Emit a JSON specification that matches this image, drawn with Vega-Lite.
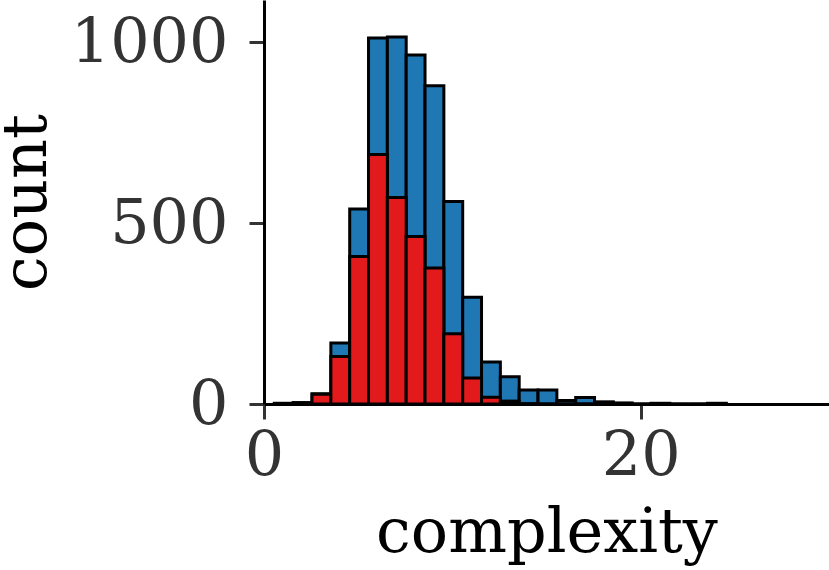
{
  "$schema": "https://vega.github.io/schema/vega-lite/v6.json",
  "width": 565,
  "height": 404,
  "autosize": "none",
  "padding": {"left": 264, "top": 0, "right": 0, "bottom": 166},
  "background": "white",
  "config": {
    "view": {"stroke": null},
    "font": "DejaVu Serif",
    "axis": {
      "labelFont": "DejaVu Serif",
      "titleFont": "DejaVu Serif",
      "labelFontSize": 62,
      "titleFontSize": 62,
      "labelColor": "#333333",
      "titleColor": "#000000",
      "titleFontWeight": "normal",
      "domainColor": "#000000",
      "domainWidth": 3,
      "tickColor": "#333333",
      "tickWidth": 3,
      "tickSize": 15,
      "grid": false,
      "format": "d"
    }
  },
  "data": {
    "values": [
      {"bin_start": 0.55, "bin_end": 1.55, "total": 2, "red": 1},
      {"bin_start": 1.55, "bin_end": 2.55, "total": 4, "red": 2},
      {"bin_start": 2.55, "bin_end": 3.55, "total": 28, "red": 27},
      {"bin_start": 3.55, "bin_end": 4.55, "total": 169, "red": 131},
      {"bin_start": 4.55, "bin_end": 5.55, "total": 539, "red": 408},
      {"bin_start": 5.55, "bin_end": 6.55, "total": 1012, "red": 690},
      {"bin_start": 6.55, "bin_end": 7.55, "total": 1015, "red": 571},
      {"bin_start": 7.55, "bin_end": 8.55, "total": 965, "red": 463},
      {"bin_start": 8.55, "bin_end": 9.55, "total": 880, "red": 376},
      {"bin_start": 9.55, "bin_end": 10.55, "total": 560, "red": 194},
      {"bin_start": 10.55, "bin_end": 11.55, "total": 295, "red": 72},
      {"bin_start": 11.55, "bin_end": 12.55, "total": 116, "red": 19},
      {"bin_start": 12.55, "bin_end": 13.55, "total": 75, "red": 8},
      {"bin_start": 13.55, "bin_end": 14.55, "total": 39, "red": 1},
      {"bin_start": 14.55, "bin_end": 15.55, "total": 39, "red": 0},
      {"bin_start": 15.55, "bin_end": 16.55, "total": 10, "red": 0},
      {"bin_start": 16.55, "bin_end": 17.55, "total": 18, "red": 0},
      {"bin_start": 17.55, "bin_end": 18.55, "total": 6, "red": 0},
      {"bin_start": 18.55, "bin_end": 19.55, "total": 3, "red": 0},
      {"bin_start": 19.55, "bin_end": 20.55, "total": 0, "red": 0},
      {"bin_start": 20.55, "bin_end": 21.55, "total": 2, "red": 0},
      {"bin_start": 21.55, "bin_end": 22.55, "total": 0, "red": 0},
      {"bin_start": 22.55, "bin_end": 23.55, "total": 0, "red": 0},
      {"bin_start": 23.55, "bin_end": 24.55, "total": 2, "red": 0}
    ]
  },
  "layer": [
    {
      "mark": {"type": "bar", "color": "#1f77b4", "stroke": "#000000", "strokeWidth": 3},
      "encoding": {
        "x": {"field": "bin_start", "type": "quantitative", "scale": {"domain": [0, 30], "nice": false}, "axis": {"values": [0, 20], "title": "complexity", "labelPadding": 6, "titlePadding": 16, "labelFlush": false}},
        "x2": {"field": "bin_end"},
        "y": {"field": "total", "type": "quantitative", "scale": {"domain": [0, 1117], "nice": false}, "axis": {"values": [0, 500, 1000], "title": "count", "labelPadding": 21, "titlePadding": 12}},
        "y2": {"datum": 0}
      }
    },
    {
      "mark": {"type": "bar", "color": "#e31a1c", "stroke": "#000000", "strokeWidth": 3},
      "encoding": {
        "x": {"field": "bin_start", "type": "quantitative"},
        "x2": {"field": "bin_end"},
        "y": {"field": "red", "type": "quantitative"},
        "y2": {"datum": 0}
      }
    }
  ]
}
